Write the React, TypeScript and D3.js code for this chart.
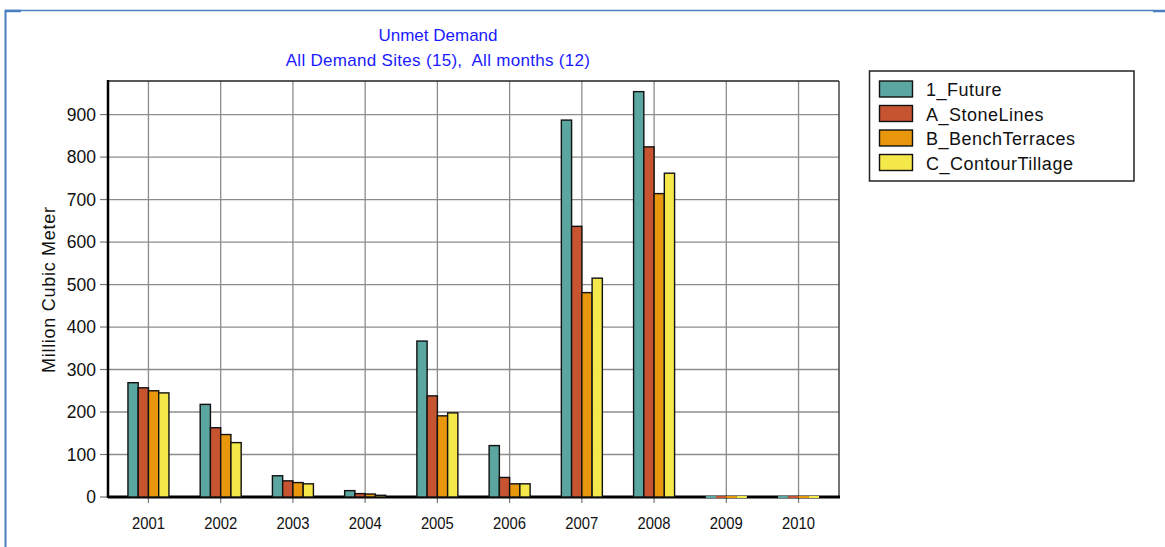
import React from "react";
import * as d3 from "d3";

const years = ["2001", "2002", "2003", "2004", "2005", "2006", "2007", "2008", "2009", "2010"];
const seriesNames = ["1_Future", "A_StoneLines", "B_BenchTerraces", "C_ContourTillage"];
const seriesColors = ["#5ba6a0", "#c65431", "#e8960c", "#f5e84b"];
const future = [269, 218, 50, 15, 367, 121, 887, 954, 0, 0];
const stoneLines = [257, 163, 38, 8, 238, 46, 637, 824, 0, 0];
const benchTerraces = [250, 147, 34, 7, 191, 31, 481, 714, 0, 0];
const contourTillage = [245, 128, 31, 4, 198, 31, 515, 762, 0, 0];
const yTicks = [0, 100, 200, 300, 400, 500, 600, 700, 800, 900];
const titleLines = ["Unmet Demand", "All Demand Sites (15),  All months (12)"];
const yLabel = "Million Cubic Meter";

const seriesValues = [future, stoneLines, benchTerraces, contourTillage];

export default function App() {
  const W = 1165, H = 547;
  const left = 108, right = 839, top = 81, bottom = 497;
  const x = d3.scalePoint<string>().domain(years).range([left, right]).padding(0.56);
  const y = d3.scaleLinear().domain([0, 979]).range([bottom, top]);
  const inner = d3.scaleBand<number>().domain([0, 1, 2, 3]).range([-20.5, 20.5]).paddingInner(0);
  const font = "'Liberation Sans', Arial, sans-serif";

  return (
    <svg width={W} height={H} style={{ position: "absolute", left: 0, top: 0, background: "#fff" }} fontFamily={font}>
      {/* outer frame */}
      <line x1={5} x2={1153} y1={10.5} y2={10.5} stroke="#4a7fc0" strokeWidth={1.5} />
      <line x1={1153} x2={1165} y1={11} y2={11} stroke="#4a7fc0" strokeWidth={2.5} />
      <line x1={5.5} x2={5.5} y1={10} y2={547} stroke="#4a7fc0" strokeWidth={2} />
      <line x1={5} x2={21} y1={11} y2={11} stroke="#4a7fc0" strokeWidth={2.5} />

      {/* title */}
      {titleLines.map((t, i) => (
        <text
          key={t}
          x={438}
          y={41 + i * 25}
          textAnchor="middle"
          fontSize={17}
          fill="#1a1aff"
          letterSpacing={i === 1 ? 0.3 : 0}
          style={{ whiteSpace: "pre" }}
        >
          {t}
        </text>
      ))}

      {/* grid */}
      {yTicks.filter((v) => v > 0).map((v) => (
        <line key={"h" + v} x1={left} x2={right} y1={y(v)} y2={y(v)} stroke="#8c8c8c" strokeWidth={1.3} />
      ))}
      {years.map((yr) => (
        <line key={"v" + yr} x1={x(yr)} x2={x(yr)} y1={top} y2={bottom} stroke="#8c8c8c" strokeWidth={1.3} />
      ))}
      {/* plot border */}
      <line x1={left} x2={right} y1={top} y2={top} stroke="#222" strokeWidth={1.5} />
      <line x1={right} x2={right} y1={top} y2={bottom} stroke="#444" strokeWidth={1.5} />

      {/* y ticks & labels */}
      {yTicks.map((v) => (
        <g key={"yt" + v}>
          <line x1={100} x2={left} y1={y(v)} y2={y(v)} stroke="#777" strokeWidth={1.2} />
          <text x={96} y={y(v)} dy="0.36em" textAnchor="end" fontSize={17.5} fill="#111">
            {v}
          </text>
        </g>
      ))}
      {/* x ticks & labels */}
      {years.map((yr) => (
        <g key={"xt" + yr}>
          <line x1={x(yr)} x2={x(yr)} y1={bottom} y2={bottom + 6} stroke="#777" strokeWidth={1.2} />
          <text
            x={x(yr)}
            y={529}
            textAnchor="middle"
            fontSize={16.5}
            fill="#111"
            textLength={33}
            lengthAdjust="spacingAndGlyphs"
          >
            {yr}
          </text>
        </g>
      ))}

      {/* y axis label */}
      <text
        transform={`translate(55,290) rotate(-90)`}
        textAnchor="middle"
        fontSize={18}
        fill="#111"
        textLength={166}
        lengthAdjust="spacing"
      >
        {yLabel}
      </text>

      {/* axes */}
      <line x1={left} x2={left} y1={top - 1} y2={bottom + 1} stroke="#000" strokeWidth={2.5} />
      <line x1={left} x2={right + 1} y1={bottom} y2={bottom} stroke="#000" strokeWidth={3} />

      {/* bars */}
      {years.map((yr, i) => (
        <g key={"b" + yr}>
          {seriesValues.map((vals, s) => {
            const v = vals[i];
            const bx = (x(yr) as number) + (inner(s) as number);
            const bw = inner.bandwidth();
            if (v <= 0) {
              return <rect key={s} x={bx} y={bottom - 1} width={bw} height={2} fill={seriesColors[s]} />;
            }
            return (
              <rect
                key={s}
                x={bx}
                y={y(v)}
                width={bw}
                height={bottom - y(v)}
                fill={seriesColors[s]}
                stroke="#111"
                strokeWidth={1.4}
              />
            );
          })}
        </g>
      ))}

      {/* legend */}
      <rect x={869.5} y={71} width={264.5} height={110} fill="#fff" stroke="#222" strokeWidth={1.5} />
      {seriesNames.map((n, i) => (
        <g key={n} transform={`translate(0, ${i * 24.5})`}>
          <rect x={879.5} y={81} width={33} height={16} fill={seriesColors[i]} stroke="#111" strokeWidth={1.4} />
          <text x={926} y={96} fontSize={18} fill="#111" letterSpacing={0.5}>
            {n}
          </text>
        </g>
      ))}
    </svg>
  );
}
